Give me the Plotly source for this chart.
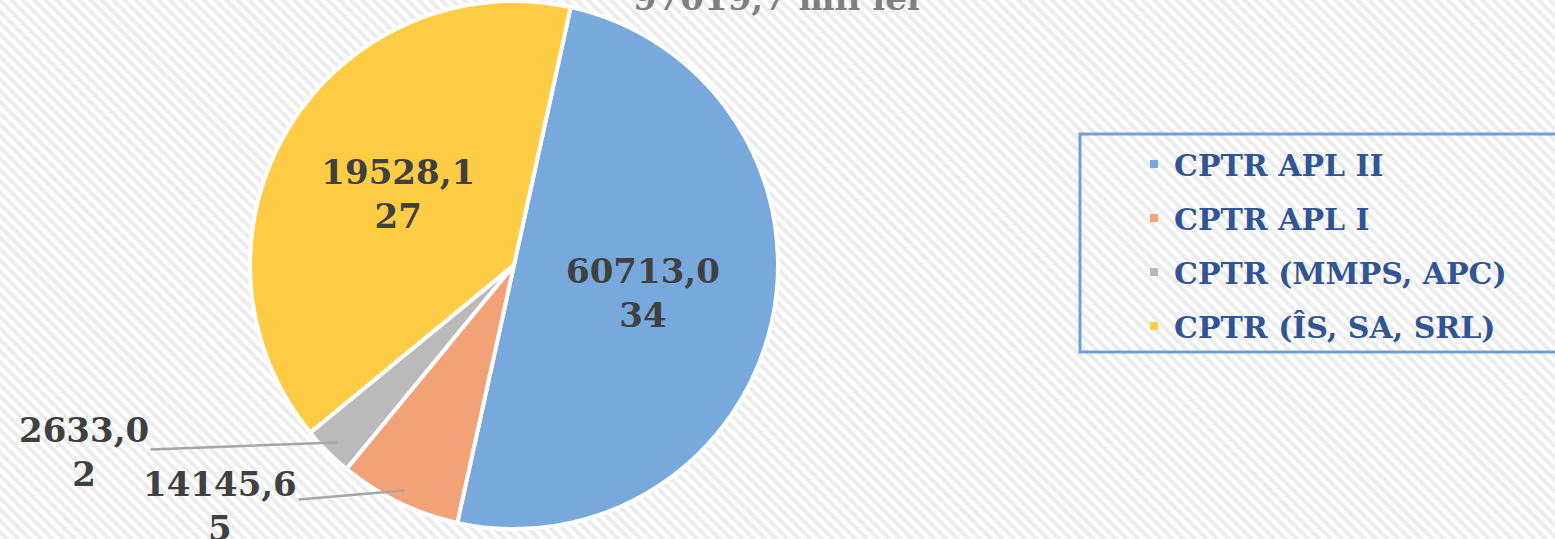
import math
import plotly.graph_objects as go

# Data
categories = ["CPTR APL II", "CPTR APL I", "CPTR (MMPS, APC)", "CPTR (ÎS, SA, SRL)"]
# slice shares as drawn in the reference (percent of the circle)
slice_shares = [50.0, 7.5, 3.1, 39.4]
# printed data labels (mii lei)
label_texts = ["60713,0<br>34", "14145,6<br>5", "2633,0<br>2", "19528,1<br>27"]
title_text = "97019,7 mii lei"

colors = ["#78a9dc", "#f1a276", "#bababa", "#ffcd45"]
inside_mask = [True, False, False, True]
# pixel positions of the outside label boxes (layout only)
outside_text_px = {1: (220, 506), 2: (84, 452)}

W, H = 1555, 539
LABEL_FONT = dict(family="DejaVu Serif", size=34, color="#404040", weight="bold")
fig = go.Figure()

# hatched background
fig.add_trace(go.Scatter(
    x=[-1, 2, 2, -1, -1], y=[-1, -1, 2, 2, -1], fill="toself", mode="none",
    fillpattern=dict(shape="\\", bgcolor="#ffffff", fgcolor="#d9d9d9", size=8, solidity=0.5),
    hoverinfo="skip", showlegend=False,
))

cx, cy, D = 514, 265, 528
rotation = 12.4
pie_text = [t if m else "" for t, m in zip(label_texts, inside_mask)]
fig.add_trace(go.Pie(
    labels=categories, values=slice_shares, text=pie_text,
    textinfo="text", textposition="inside",
    insidetextorientation="horizontal",
    sort=False, direction="clockwise", rotation=rotation,
    marker=dict(colors=colors, line=dict(color="white", width=4)),
    textfont=LABEL_FONT,
    domain=dict(x=[(cx - D / 2) / W, (cx + D / 2) / W], y=[1 - (cy + D / 2) / H, 1 - (cy - D / 2) / H]),
    showlegend=False, automargin=False,
))

# outside labels with leader lines pointing at the slice mid-angle
total = sum(slice_shares)
cum = 0.0
for i, s in enumerate(slice_shares):
    mid = math.radians(rotation + (cum + s / 2) / total * 360)
    cum += s
    if inside_mask[i]:
        continue
    hx = cx + 0.95 * D / 2 * math.sin(mid)
    hy = cy - 0.95 * D / 2 * math.cos(mid)
    tx, ty = outside_text_px[i]
    fig.add_annotation(
        text=label_texts[i], xref="paper", yref="paper", x=hx / W, y=1 - hy / H,
        ax=tx - hx, ay=ty - hy, showarrow=True, arrowhead=0, arrowwidth=2.5,
        arrowcolor="#a6a6a6", font=LABEL_FONT,
    )

# legend entries
for name, col in zip(categories, colors):
    fig.add_trace(go.Scatter(
        x=[None], y=[None], mode="markers", name=name, legendgroup=name,
        marker=dict(symbol="square", size=8, color=col),
    ))

fig.add_annotation(
    text=title_text, xref="paper", yref="paper", x=776 / W, y=1, xanchor="center", yanchor="bottom",
    yshift=-20, showarrow=False,
    font=dict(family="DejaVu Serif", size=34, color="#7f7f7f", weight="bold"),
)

# legend frame
fig.add_shape(type="rect", xref="paper", yref="paper", x0=1080 / W, x1=1.02, y0=1 - 352 / H, y1=1 - 134 / H,
              line=dict(color="#6fa0d8", width=3), fillcolor="rgba(0,0,0,0)")

fig.update_layout(
    width=W, height=H, margin=dict(l=0, r=0, t=0, b=0),
    paper_bgcolor="white", plot_bgcolor="white",
    xaxis=dict(visible=False, range=[0, 1], domain=[0, 1], fixedrange=True),
    yaxis=dict(visible=False, range=[0, 1], domain=[0, 1], fixedrange=True),
    legend=dict(
        x=1134 / W, y=1 - 138 / H, xanchor="left", yanchor="top",
        borderwidth=0, bgcolor="rgba(0,0,0,0)",
        font=dict(family="DejaVu Serif", size=30, color="#2f5597", weight="bold"),
        tracegroupgap=12,
    ),
)

fig.write_html("out.html", config={"displayModeBar": False},
               post_script="document.body.style.margin='0';")
